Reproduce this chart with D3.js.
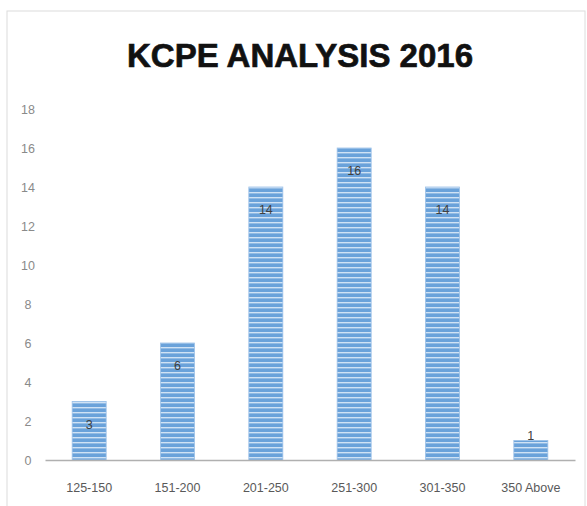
<!DOCTYPE html>
<html><head><meta charset="utf-8">
<script src="https://cdn.jsdelivr.net/npm/d3@7"></script>
<style>body{margin:0;background:#fff}svg{display:block}</style>
</head><body>
<svg id="c" width="587" height="506"></svg>
<script>
const categories = ["125-150","151-200","201-250","251-300","301-350","350 Above"];
const values = [3,6,14,16,14,1];
const yTicks = [0,2,4,6,8,10,12,14,16,18];
const title = "KCPE ANALYSIS 2016";

const svg = d3.select("#c");
const plot = {left:45, right:575, top:109, bottom:460};

svg.append("rect").attr("x",7).attr("y",11).attr("width",578).attr("height",500)
  .attr("fill","#fff").attr("stroke","#dcdcdc").attr("stroke-width",1);

const defs = svg.append("defs");
const pat = defs.append("pattern").attr("id","stripes").attr("patternUnits","userSpaceOnUse")
  .attr("width",8).attr("height",5);
pat.append("rect").attr("width",8).attr("height",5).attr("fill","#6aa2da");
pat.append("rect").attr("y",2).attr("width",8).attr("height",1.4).attr("fill","#cfe2f5");

const x = d3.scaleBand().domain(categories).range([plot.left, plot.right]).paddingInner(0.615).paddingOuter(0.3075);
const y = d3.scaleLinear().domain([0,18]).range([plot.bottom, plot.top]);

svg.append("text").attr("x",300).attr("y",67).attr("text-anchor","middle")
  .attr("font-family","Liberation Sans, Arial, sans-serif").attr("font-weight","bold")
  .attr("font-size",34).attr("textLength",346).attr("lengthAdjust","spacingAndGlyphs")
  .attr("fill","#111").attr("stroke","#111").attr("stroke-width",0.7).text(title);

const yAxis = d3.axisLeft(y).tickValues(yTicks).tickSize(0).tickPadding(0);
const gy = svg.append("g").attr("transform","translate(33,0)").call(yAxis);
gy.select(".domain").remove();
gy.selectAll("text").attr("font-family","Liberation Sans, sans-serif")
  .attr("font-size",12.5).attr("fill","#8a8a8a").attr("text-anchor","middle").attr("dx",-5);

svg.append("g").selectAll("rect").data(values).join("rect")
  .attr("x",(d,i)=>x(categories[i])).attr("width",x.bandwidth())
  .attr("y",d=>y(d)).attr("height",d=>y(0)-y(d))
  .attr("fill","url(#stripes)").attr("stroke","#9cc1e8").attr("stroke-width",0.8);

const xAxis = d3.axisBottom(x).tickSize(0).tickPadding(23);
const gx = svg.append("g").attr("transform",`translate(0,${plot.bottom})`).call(xAxis);
gx.select(".domain").attr("stroke","#b0b0b0").attr("stroke-width",1.5);
gx.selectAll("text").attr("font-family","Liberation Sans, sans-serif")
  .attr("font-size",12.5).attr("fill","#595959");

svg.append("g").selectAll("text").data(values).join("text")
  .attr("x",(d,i)=>x(categories[i])+x.bandwidth()/2)
  .attr("y",d=> (y(0)-y(d) > 30) ? y(d)+27 : y(d)-1)
  .attr("text-anchor","middle")
  .attr("font-family","Liberation Sans, sans-serif")
  .attr("font-size",12.5).attr("fill","#404040").text(d=>d);
</script>
</body></html>
